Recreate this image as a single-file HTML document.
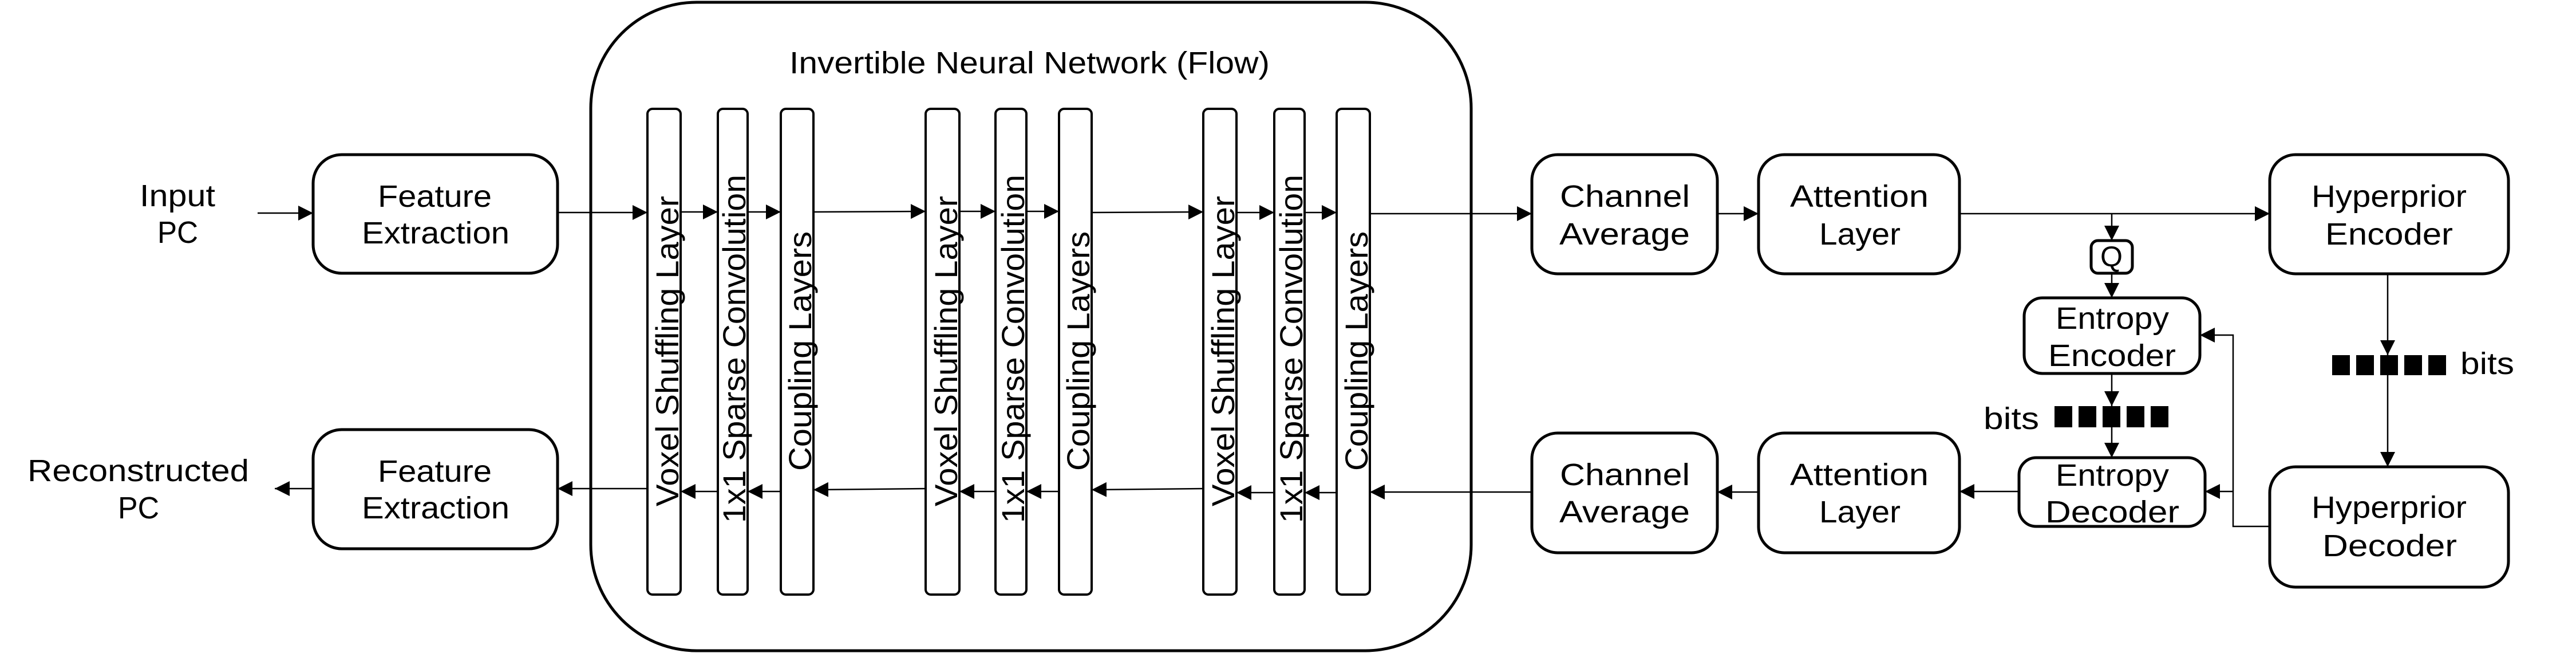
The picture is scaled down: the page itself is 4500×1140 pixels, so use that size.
<!DOCTYPE html>
<html><head><meta charset="utf-8"><style>
html,body{margin:0;padding:0;background:#fff;}
svg{display:block;}
text{font-family:"Liberation Sans",sans-serif;fill:#000;}
</style></head><body>
<svg width="4500" height="1140" viewBox="0 0 4500 1140" xmlns="http://www.w3.org/2000/svg">
<defs>
<marker id="a" markerWidth="26" markerHeight="26" refX="26" refY="13" orient="auto" markerUnits="userSpaceOnUse">
<path d="M0,0 L26,13 L0,26 Z" fill="#000"/>
</marker>
</defs>
<g fill="none" stroke="#000" stroke-width="5">
<rect x="1032" y="4" width="1538" height="1132" rx="185" ry="185"/>
<rect x="547" y="270" width="427" height="207" rx="50"/>
<rect x="547" y="750" width="427" height="208" rx="50"/>
<rect x="2676" y="270" width="324" height="208" rx="45"/>
<rect x="3072" y="270" width="351" height="208" rx="45"/>
<rect x="2676" y="756" width="324" height="209" rx="45"/>
<rect x="3072" y="756" width="351" height="209" rx="45"/>
<rect x="3965" y="270" width="417" height="208" rx="45"/>
<rect x="3965" y="815" width="417" height="210" rx="45"/>
<rect x="3536" y="520" width="307" height="132" rx="32"/>
<rect x="3527" y="799" width="325" height="120" rx="30"/>
<rect x="3653" y="420" width="72" height="57" rx="12"/>
</g>
<g fill="none" stroke="#000" stroke-width="4">
<rect x="1131" y="190" width="58" height="848" rx="9"/>
<rect x="1254" y="190" width="52" height="848" rx="9"/>
<rect x="1364" y="190" width="57" height="848" rx="9"/>
<rect x="1617" y="190" width="59" height="848" rx="9"/>
<rect x="1739" y="190" width="54" height="848" rx="9"/>
<rect x="1850" y="190" width="57" height="848" rx="9"/>
<rect x="2102" y="190" width="58" height="848" rx="9"/>
<rect x="2226" y="190" width="53" height="848" rx="9"/>
<rect x="2335" y="190" width="58" height="848" rx="9"/>
</g>
<g stroke="#000" stroke-width="2.5" fill="none" marker-end="url(#a)">
<line x1="450" y1="372" x2="547" y2="372"/>
<line x1="974" y1="371" x2="1131" y2="371"/>
<line x1="1189" y1="370" x2="1254" y2="370"/>
<line x1="1306" y1="370" x2="1364" y2="370"/>
<line x1="1421" y1="370" x2="1617" y2="369"/>
<line x1="1676" y1="369" x2="1739" y2="369"/>
<line x1="1793" y1="369" x2="1850" y2="369"/>
<line x1="1907" y1="371" x2="2102" y2="370"/>
<line x1="2160" y1="371" x2="2226" y2="371"/>
<line x1="2279" y1="371" x2="2335" y2="371"/>
<line x1="2393" y1="373" x2="2676" y2="373"/>
<line x1="3000" y1="373" x2="3072" y2="373"/>
<line x1="3423" y1="373" x2="3965" y2="373"/>
<line x1="3689" y1="373" x2="3689" y2="420"/>
<line x1="3689" y1="477" x2="3689" y2="520"/>
<line x1="3689" y1="652" x2="3689" y2="709"/>
<line x1="3689" y1="746" x2="3689" y2="799"/>
<line x1="4171" y1="478" x2="4171" y2="620"/>
<line x1="4171" y1="655" x2="4171" y2="815"/>
<polyline points="3965,919 3901,919 3901,585 3843,585"/>
<line x1="3901" y1="858" x2="3852" y2="858"/>
<line x1="3527" y1="858" x2="3423" y2="858"/>
<line x1="3072" y1="859" x2="3000" y2="859"/>
<line x1="2676" y1="859" x2="2393" y2="859"/>
<line x1="2335" y1="860" x2="2279" y2="860"/>
<line x1="2226" y1="860" x2="2160" y2="860"/>
<line x1="2102" y1="853" x2="1907" y2="855"/>
<line x1="1850" y1="858" x2="1793" y2="858"/>
<line x1="1739" y1="858" x2="1676" y2="858"/>
<line x1="1617" y1="853" x2="1421" y2="855"/>
<line x1="1364" y1="858" x2="1306" y2="858"/>
<line x1="1254" y1="858" x2="1189" y2="858"/>
<line x1="1131" y1="853" x2="974" y2="853"/>
<line x1="547" y1="853" x2="480" y2="853"/>
</g>
<g fill="#000">
<rect x="3589" y="709" width="31" height="37"/><rect x="3631" y="709" width="31" height="37"/><rect x="3673" y="709" width="31" height="37"/><rect x="3715" y="709" width="31" height="37"/><rect x="3757" y="709" width="31" height="37"/>
<rect x="4074" y="620" width="31" height="35"/><rect x="4116" y="620" width="31" height="35"/><rect x="4158" y="620" width="31" height="35"/><rect x="4200" y="620" width="31" height="35"/><rect x="4242" y="620" width="31" height="35"/>
</g>
<g font-size="54">
<text x="1379" y="128" textLength="839" lengthAdjust="spacingAndGlyphs">Invertible Neural Network (Flow)</text>
<text x="244" y="360" textLength="132" lengthAdjust="spacingAndGlyphs">Input</text>
<text x="275" y="424" textLength="71" lengthAdjust="spacingAndGlyphs">PC</text>
<text x="48" y="840" textLength="387" lengthAdjust="spacingAndGlyphs">Reconstructed</text>
<text x="206" y="905" textLength="72" lengthAdjust="spacingAndGlyphs">PC</text>
<text x="660" y="361" textLength="199" lengthAdjust="spacingAndGlyphs">Feature</text>
<text x="632" y="425" textLength="258" lengthAdjust="spacingAndGlyphs">Extraction</text>
<text x="660" y="841" textLength="199" lengthAdjust="spacingAndGlyphs">Feature</text>
<text x="632" y="905" textLength="258" lengthAdjust="spacingAndGlyphs">Extraction</text>
<text x="2725" y="361" textLength="227" lengthAdjust="spacingAndGlyphs">Channel</text>
<text x="2724" y="427" textLength="228" lengthAdjust="spacingAndGlyphs">Average</text>
<text x="2725" y="847" textLength="227" lengthAdjust="spacingAndGlyphs">Channel</text>
<text x="2724" y="912" textLength="228" lengthAdjust="spacingAndGlyphs">Average</text>
<text x="3127" y="361" textLength="242" lengthAdjust="spacingAndGlyphs">Attention</text>
<text x="3178" y="427" textLength="142" lengthAdjust="spacingAndGlyphs">Layer</text>
<text x="3127" y="847" textLength="242" lengthAdjust="spacingAndGlyphs">Attention</text>
<text x="3178" y="912" textLength="142" lengthAdjust="spacingAndGlyphs">Layer</text>
<text x="4038" y="361" textLength="271" lengthAdjust="spacingAndGlyphs">Hyperprior</text>
<text x="4062" y="427" textLength="223" lengthAdjust="spacingAndGlyphs">Encoder</text>
<text x="4038" y="904" textLength="271" lengthAdjust="spacingAndGlyphs">Hyperprior</text>
<text x="4057" y="971" textLength="235" lengthAdjust="spacingAndGlyphs">Decoder</text>
<text x="3591" y="574" textLength="198" lengthAdjust="spacingAndGlyphs">Entropy</text>
<text x="3578" y="639" textLength="223" lengthAdjust="spacingAndGlyphs">Encoder</text>
<text x="3591" y="848" textLength="198" lengthAdjust="spacingAndGlyphs">Entropy</text>
<text x="3573" y="912" textLength="234" lengthAdjust="spacingAndGlyphs">Decoder</text>
<text x="3669" y="465" textLength="39" lengthAdjust="spacingAndGlyphs" font-size="50">Q</text>
<text x="3465" y="749" textLength="97" lengthAdjust="spacingAndGlyphs">bits</text>
<text x="4298" y="653" textLength="94" lengthAdjust="spacingAndGlyphs">bits</text>
</g>
<g font-size="56">
<text transform="translate(1185,884) rotate(-90)" textLength="542" lengthAdjust="spacingAndGlyphs">Voxel Shuffling Layer</text>
<text transform="translate(1302,913) rotate(-90)" textLength="608" lengthAdjust="spacingAndGlyphs">1x1 Sparse Convolution</text>
<text transform="translate(1417,822) rotate(-90)" textLength="418" lengthAdjust="spacingAndGlyphs">Coupling Layers</text>
<text transform="translate(1672,884) rotate(-90)" textLength="542" lengthAdjust="spacingAndGlyphs">Voxel Shuffling Layer</text>
<text transform="translate(1789,913) rotate(-90)" textLength="608" lengthAdjust="spacingAndGlyphs">1x1 Sparse Convolution</text>
<text transform="translate(1903,822) rotate(-90)" textLength="418" lengthAdjust="spacingAndGlyphs">Coupling Layers</text>
<text transform="translate(2156,884) rotate(-90)" textLength="542" lengthAdjust="spacingAndGlyphs">Voxel Shuffling Layer</text>
<text transform="translate(2275,913) rotate(-90)" textLength="608" lengthAdjust="spacingAndGlyphs">1x1 Sparse Convolution</text>
<text transform="translate(2389,822) rotate(-90)" textLength="418" lengthAdjust="spacingAndGlyphs">Coupling Layers</text>
</g>
</svg>
</body></html>
